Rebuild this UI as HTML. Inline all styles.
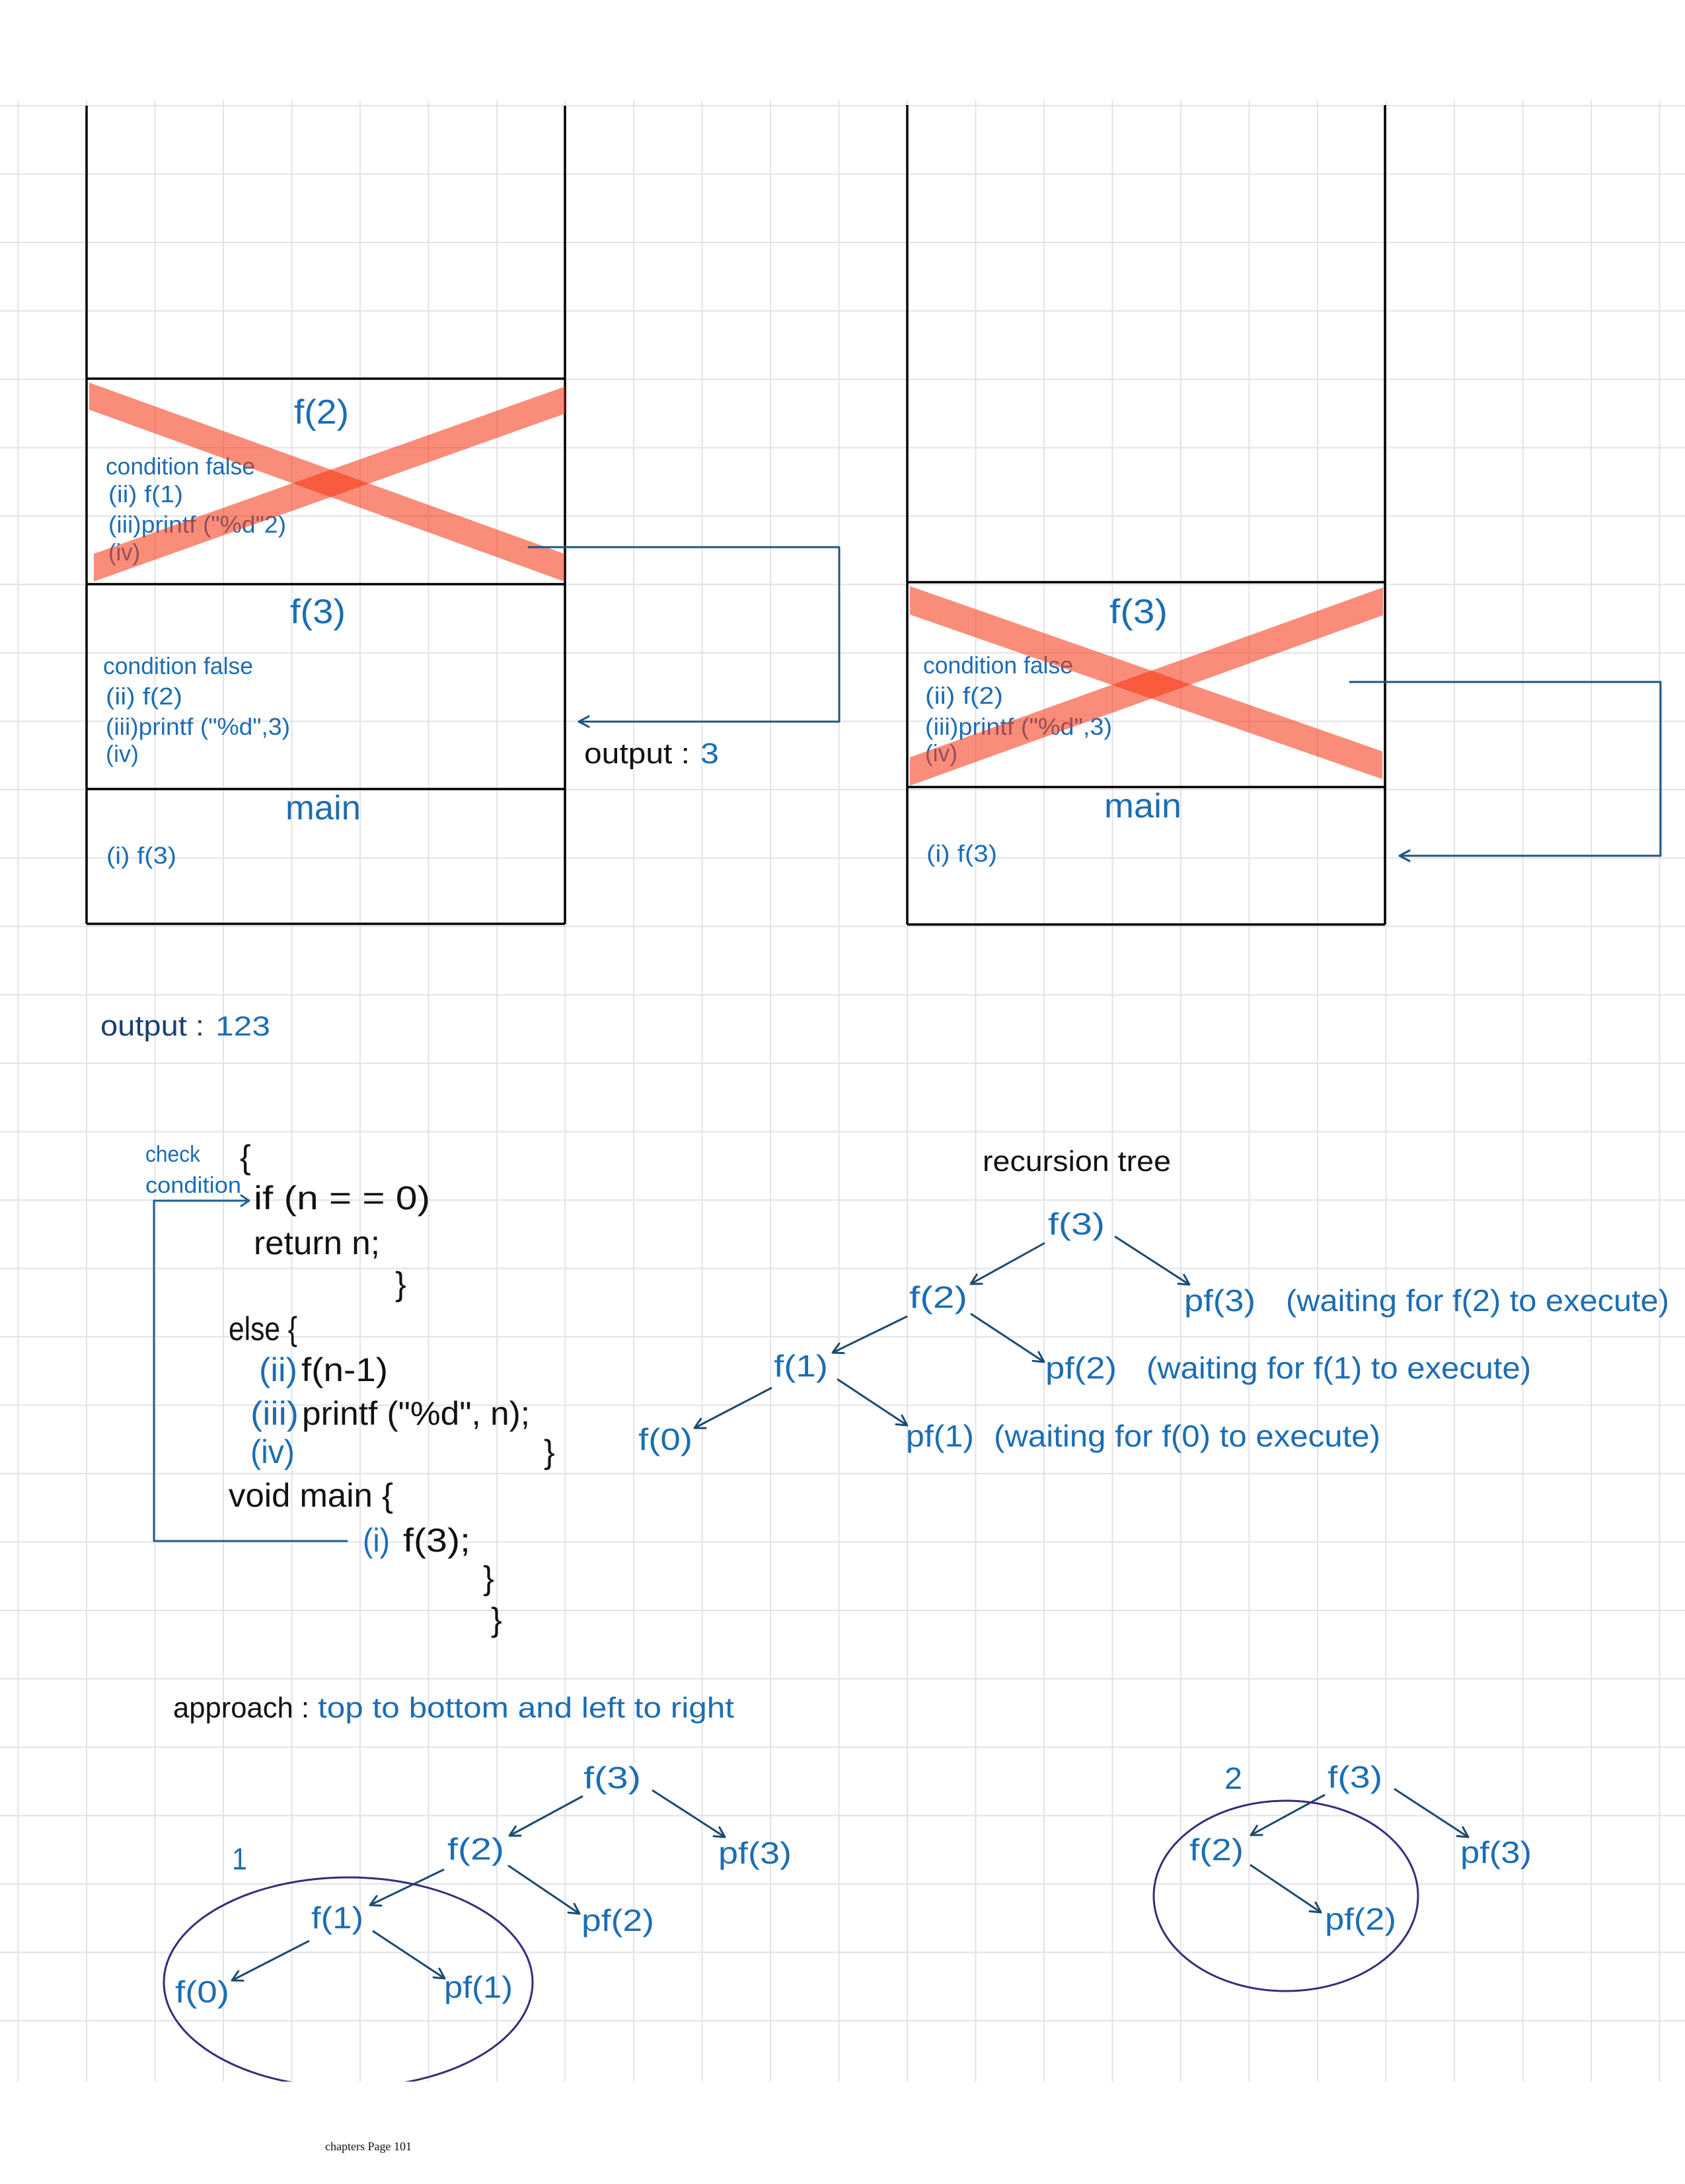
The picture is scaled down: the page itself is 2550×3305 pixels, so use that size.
<!DOCTYPE html>
<html>
<head>
<meta charset="utf-8">
<style>
html,body{margin:0;padding:0;background:#ffffff;}
svg{display:block;}
text{font-family:"Liberation Sans", sans-serif;}
</style>
</head>
<body>
<svg xmlns="http://www.w3.org/2000/svg" width="2550" height="3305" viewBox="0 0 2550 3305">
<defs>
  <marker id="ah" markerUnits="userSpaceOnUse" markerWidth="40" markerHeight="40" viewBox="-20 -20 40 40" refX="0" refY="0" orient="auto">
    <path d="M-15,-8 L0,0 L-15,8" fill="none" stroke="#1d4a6e" stroke-width="3" stroke-linecap="round" stroke-linejoin="round"/>
  </marker>
  <clipPath id="gridclip"><rect x="0" y="0" width="2550" height="3150"/></clipPath>
</defs>

<rect x="0" y="0" width="2550" height="3305" fill="#ffffff"/>

<!-- grid -->
<path fill="none" stroke="#e2e2e8" stroke-width="2" d="
M0 160H2550 M0 263.5H2550 M0 367H2550 M0 470.5H2550 M0 574H2550 M0 677.5H2550 M0 781H2550 M0 884.5H2550
M0 988H2550 M0 1091.5H2550 M0 1195H2550 M0 1298.5H2550 M0 1402H2550 M0 1505.5H2550 M0 1609H2550 M0 1712.5H2550
M0 1816H2550 M0 1919.5H2550 M0 2023H2550 M0 2126.5H2550 M0 2230H2550 M0 2333.5H2550 M0 2437H2550 M0 2540.5H2550
M0 2644H2550 M0 2747.5H2550 M0 2851H2550 M0 2954.5H2550 M0 3058H2550
M27.5 152V3150 M131 152V3150 M234.5 152V3150 M338 152V3150 M441.5 152V3150 M545 152V3150 M648.5 152V3150
M752 152V3150 M855.5 152V3150 M959 152V3150 M1062.5 152V3150 M1166 152V3150 M1269.5 152V3150 M1373 152V3150
M1476.5 152V3150 M1580 152V3150 M1683.5 152V3150 M1787 152V3150 M1890.5 152V3150 M1994 152V3150 M2097.5 152V3150
M2201 152V3150 M2304.5 152V3150 M2408 152V3150 M2511.5 152V3150"/>

<!-- left stack box -->
<g stroke="#000" stroke-width="3.5" fill="none">
  <path d="M131 160V1398 M855 160V1398 M131 573H855 M131 884H855 M131 1194H855 M131 1398H855"/>
  <path d="M1373 159V1399 M2096 159V1399 M1373 881H2096 M1373 1191H2096 M1373 1399H2096"/>
</g>

<!-- left stack text -->
<g fill="#1c6db3">
  <text x="445" y="641" font-size="52" textLength="83" lengthAdjust="spacingAndGlyphs">f(2)</text>
  <text x="160" y="718" font-size="36" textLength="226" lengthAdjust="spacingAndGlyphs">condition false</text>
  <text x="164" y="760" font-size="36" textLength="113" lengthAdjust="spacingAndGlyphs">(ii) f(1)</text>
  <text x="164" y="806" font-size="36" textLength="269" lengthAdjust="spacingAndGlyphs">(iii)printf ("%d"2)</text>
  <text x="164" y="848" font-size="36" textLength="48" lengthAdjust="spacingAndGlyphs">(iv)</text>

  <text x="439" y="943" font-size="52" textLength="84" lengthAdjust="spacingAndGlyphs">f(3)</text>
  <text x="156" y="1020" font-size="36" textLength="227" lengthAdjust="spacingAndGlyphs">condition false</text>
  <text x="160" y="1066" font-size="36" textLength="116" lengthAdjust="spacingAndGlyphs">(ii) f(2)</text>
  <text x="160" y="1112" font-size="36" textLength="279" lengthAdjust="spacingAndGlyphs">(iii)printf ("%d",3)</text>
  <text x="160" y="1153" font-size="36" textLength="50" lengthAdjust="spacingAndGlyphs">(iv)</text>
  <text x="432" y="1240" font-size="52" textLength="114" lengthAdjust="spacingAndGlyphs">main</text>
  <text x="161" y="1307" font-size="36" textLength="106" lengthAdjust="spacingAndGlyphs">(i) f(3)</text>
</g>

<!-- right stack text -->
<g fill="#1c6db3">
  <text x="1679" y="943" font-size="52" textLength="88" lengthAdjust="spacingAndGlyphs">f(3)</text>
  <text x="1397" y="1019" font-size="36" textLength="227" lengthAdjust="spacingAndGlyphs">condition false</text>
  <text x="1400" y="1065" font-size="36" textLength="118" lengthAdjust="spacingAndGlyphs">(ii) f(2)</text>
  <text x="1400" y="1112" font-size="36" textLength="283" lengthAdjust="spacingAndGlyphs">(iii)printf ("%d",3)</text>
  <text x="1400" y="1152" font-size="36" textLength="49" lengthAdjust="spacingAndGlyphs">(iv)</text>
  <text x="1671" y="1237" font-size="52" textLength="117" lengthAdjust="spacingAndGlyphs">main</text>
  <text x="1402" y="1304" font-size="36" textLength="107" lengthAdjust="spacingAndGlyphs">(i) f(3)</text>
</g>

<!-- red crosses -->
<g fill="rgb(246,52,16)" fill-opacity="0.56">
  <polygon points="135,579 135,620 854,880 854,838"/>
  <polygon points="142,838 142,880 855,626 855,585"/>
  <polygon points="1377,887 1377,930 2092,1179 2092,1137"/>
  <polygon points="1377,1146 1377,1189 2093,931 2093,889"/>
</g>

<!-- stack connectors -->
<g fill="none" stroke="#1d5580" stroke-width="3" stroke-linejoin="round" stroke-linecap="round">
  <path d="M800 828 H1270 V1092 H876"/>
  <path d="M891 1084 L876 1092 L891 1100"/>
  <path d="M2043 1032 H2513 V1295 H2118"/>
  <path d="M2133 1287 L2118 1295 L2133 1303"/>
</g>

<!-- output : 3 -->
<text x="884" y="1155" font-size="44" fill="#111" textLength="160" lengthAdjust="spacingAndGlyphs">output :</text>
<text x="1060" y="1155" font-size="44" fill="#1c6db3" textLength="28" lengthAdjust="spacingAndGlyphs">3</text>

<!-- output : 123 -->
<text x="152" y="1567" font-size="44" fill="#1c3f72" textLength="157" lengthAdjust="spacingAndGlyphs">output :</text>
<text x="326" y="1567" font-size="42" fill="#1c6db3" textLength="83" lengthAdjust="spacingAndGlyphs">123</text>

<!-- code block -->
<g fill="#1c6db3">
  <text x="220" y="1758" font-size="34" textLength="83" lengthAdjust="spacingAndGlyphs">check</text>
  <text x="220" y="1805" font-size="34" textLength="145" lengthAdjust="spacingAndGlyphs">condition</text>
</g>
<g fill="none" stroke="#1f5f95" stroke-width="3" stroke-linejoin="round" stroke-linecap="round">
  <path d="M375 1817 H233 V2332 H525"/>
  <path d="M365 1809 L377 1817 L365 1825"/>
</g>
<g font-size="50" fill="#111">
  <text x="363" y="1768">{</text>
  <text x="384" y="1830" textLength="267" lengthAdjust="spacingAndGlyphs">if (n = = 0)</text>
  <text x="384" y="1898" textLength="191" lengthAdjust="spacingAndGlyphs">return n;</text>
  <text x="598" y="1960">}</text>
  <text x="346" y="2028" textLength="104" lengthAdjust="spacingAndGlyphs">else {</text>
  <text x="456" y="2090" textLength="131" lengthAdjust="spacingAndGlyphs">f(n-1)</text>
  <text x="457" y="2156" textLength="345" lengthAdjust="spacingAndGlyphs">printf ("%d", n);</text>
  <text x="823" y="2214">}</text>
  <text x="346" y="2280" textLength="249" lengthAdjust="spacingAndGlyphs">void main {</text>
  <text x="610" y="2348" textLength="102" lengthAdjust="spacingAndGlyphs">f(3);</text>
  <text x="731" y="2405">}</text>
  <text x="743" y="2468">}</text>
</g>
<g font-size="50" fill="#1c6db3">
  <text x="392" y="2090" textLength="58" lengthAdjust="spacingAndGlyphs">(ii)</text>
  <text x="379" y="2156" textLength="73" lengthAdjust="spacingAndGlyphs">(iii)</text>
  <text x="379" y="2214" textLength="67" lengthAdjust="spacingAndGlyphs">(iv)</text>
  <text x="549" y="2348" textLength="41" lengthAdjust="spacingAndGlyphs">(i)</text>
</g>

<!-- recursion tree -->
<text x="1487" y="1772" font-size="44" fill="#111" textLength="285" lengthAdjust="spacingAndGlyphs">recursion tree</text>
<g font-size="46" fill="#1c6db3">
  <text x="1586" y="1868" textLength="86" lengthAdjust="spacingAndGlyphs">f(3)</text>
  <text x="1376" y="1979" textLength="88" lengthAdjust="spacingAndGlyphs">f(2)</text>
  <text x="1792" y="1984" textLength="108" lengthAdjust="spacingAndGlyphs">pf(3)</text>
  <text x="1946" y="1984" textLength="580" lengthAdjust="spacingAndGlyphs">(waiting for f(2) to execute)</text>
  <text x="1171" y="2083" textLength="82" lengthAdjust="spacingAndGlyphs">f(1)</text>
  <text x="1582" y="2086" textLength="108" lengthAdjust="spacingAndGlyphs">pf(2)</text>
  <text x="1735" y="2086" textLength="582" lengthAdjust="spacingAndGlyphs">(waiting for f(1) to execute)</text>
  <text x="966" y="2194" textLength="82" lengthAdjust="spacingAndGlyphs">f(0)</text>
  <text x="1371" y="2189" textLength="103" lengthAdjust="spacingAndGlyphs">pf(1)</text>
  <text x="1504" y="2189" textLength="585" lengthAdjust="spacingAndGlyphs">(waiting for f(0) to execute)</text>
</g>
<g fill="none" stroke="#1d4a6e" stroke-width="3" marker-end="url(#ah)">
  <line x1="1581" y1="1881" x2="1469" y2="1943"/>
  <line x1="1687" y1="1871" x2="1800" y2="1944"/>
  <line x1="1373" y1="1992" x2="1260" y2="2047"/>
  <line x1="1469" y1="1988" x2="1580" y2="2061"/>
  <line x1="1168" y1="2100" x2="1051" y2="2161"/>
  <line x1="1267" y1="2087" x2="1373" y2="2157"/>
</g>

<!-- approach -->
<text x="262" y="2599" font-size="44" fill="#111" textLength="206" lengthAdjust="spacingAndGlyphs">approach :</text>
<text x="481" y="2599" font-size="44" fill="#1c6db3" textLength="630" lengthAdjust="spacingAndGlyphs">top to bottom and left to right</text>

<!-- tree 1 -->
<g font-size="46" fill="#1c6db3">
  <text x="883" y="2706" textLength="87" lengthAdjust="spacingAndGlyphs">f(3)</text>
  <text x="677" y="2814" textLength="86" lengthAdjust="spacingAndGlyphs">f(2)</text>
  <text x="1087" y="2820" textLength="111" lengthAdjust="spacingAndGlyphs">pf(3)</text>
  <text x="351" y="2829" textLength="23" lengthAdjust="spacingAndGlyphs">1</text>
  <text x="471" y="2918" textLength="79" lengthAdjust="spacingAndGlyphs">f(1)</text>
  <text x="880" y="2922" textLength="110" lengthAdjust="spacingAndGlyphs">pf(2)</text>
  <text x="265" y="3030" textLength="82" lengthAdjust="spacingAndGlyphs">f(0)</text>
  <text x="672" y="3023" textLength="104" lengthAdjust="spacingAndGlyphs">pf(1)</text>
</g>
<g fill="none" stroke="#1d4a6e" stroke-width="3" marker-end="url(#ah)">
  <line x1="882" y1="2718" x2="771" y2="2778"/>
  <line x1="987" y1="2709" x2="1097" y2="2780"/>
  <line x1="672" y1="2829" x2="560" y2="2883"/>
  <line x1="769" y1="2823" x2="877" y2="2896"/>
  <line x1="468" y1="2937" x2="351" y2="2997"/>
  <line x1="564" y1="2922" x2="673" y2="2994"/>
</g>
<ellipse cx="527" cy="3000" rx="279" ry="159" fill="none" stroke="#3a2a7c" stroke-width="3" clip-path="url(#gridclip)"/>

<!-- tree 2 -->
<g font-size="46" fill="#1c6db3">
  <text x="1853" y="2707" textLength="27" lengthAdjust="spacingAndGlyphs">2</text>
  <text x="2009" y="2705" textLength="83" lengthAdjust="spacingAndGlyphs">f(3)</text>
  <text x="1800" y="2815" textLength="82" lengthAdjust="spacingAndGlyphs">f(2)</text>
  <text x="2210" y="2819" textLength="108" lengthAdjust="spacingAndGlyphs">pf(3)</text>
  <text x="2005" y="2920" textLength="108" lengthAdjust="spacingAndGlyphs">pf(2)</text>
</g>
<g fill="none" stroke="#1d4a6e" stroke-width="3" marker-end="url(#ah)">
  <line x1="2005" y1="2716" x2="1893" y2="2777"/>
  <line x1="2110" y1="2707" x2="2222" y2="2780"/>
  <line x1="1892" y1="2822" x2="1999" y2="2894"/>
</g>
<ellipse cx="1946" cy="2869" rx="200" ry="144" fill="none" stroke="#3a2a7c" stroke-width="3"/>

<!-- footer -->
<text x="492" y="3254" font-size="18" fill="#111" style="font-family:'Liberation Serif', serif" textLength="131" lengthAdjust="spacingAndGlyphs">chapters Page 101</text>
</svg>
</body>
</html>
